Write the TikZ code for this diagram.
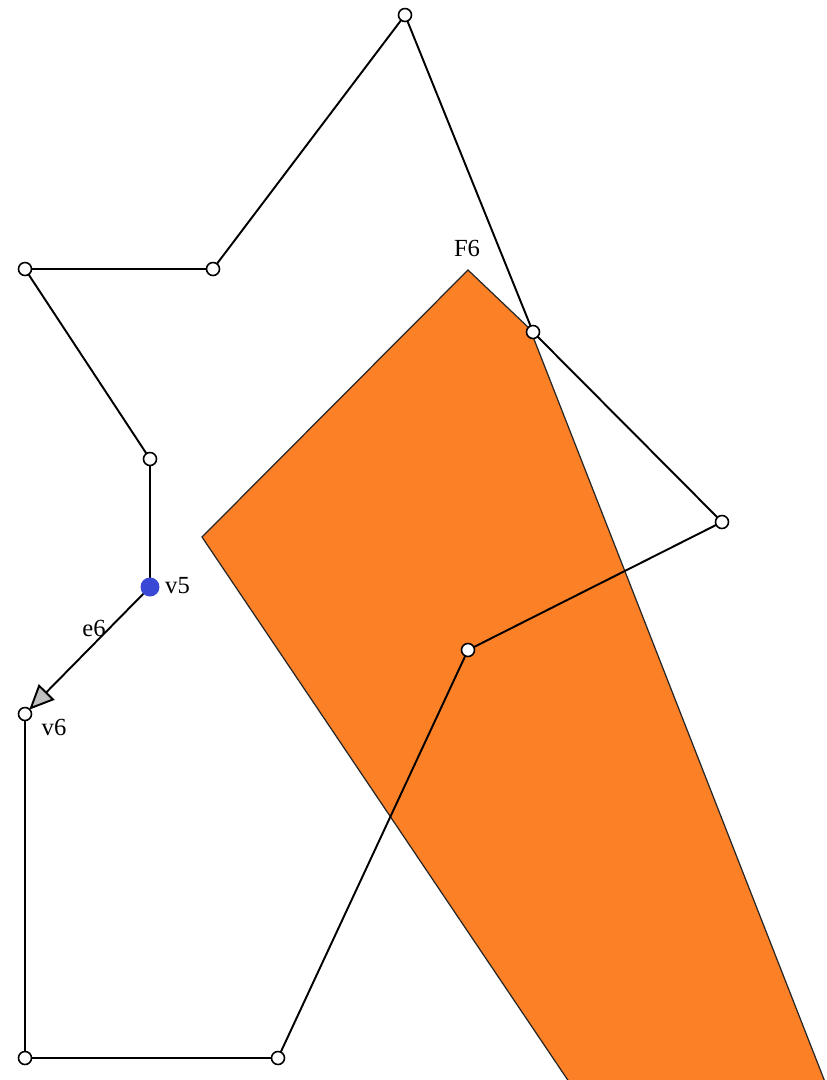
\documentclass[tikz,border=0pt]{standalone}
\usepackage{fontspec}
\setmainfont{Liberation Serif}
\usetikzlibrary{arrows.meta}
\definecolor{faceorange}{RGB}{252,128,38}
\definecolor{vblue}{RGB}{58,72,214}
\tikzset{
  vtx/.style={circle,draw=black,fill=white,line width=0.9pt,inner sep=0pt,minimum size=0.26cm},
  curvtx/.style={circle,fill=vblue,inner sep=0pt,minimum size=0.38cm},
  edge/.style={line width=1.1pt},
  lbl/.style={font=\fontsize{14}{16}\selectfont}
}
\begin{document}
\begin{tikzpicture}[x=0.02cm,y=-0.02cm]
\useasboundingbox (0,0) rectangle (827,1080);

% vertices of the polygon
\coordinate (v0) at (533,332);
\coordinate (v1) at (405,15);
\coordinate (v2) at (213,269);
\coordinate (v3) at (25,269);
\coordinate (v4) at (150,459);
\coordinate (v5) at (150,587);
\coordinate (v6) at (25,714);
\coordinate (v7) at (25,1058);
\coordinate (v8) at (278,1058);
\coordinate (v9) at (468,650);
\coordinate (v10) at (722,522);

% face F6
\begin{scope}
\clip (0,0) rectangle (827,1080);
\filldraw[fill=faceorange,draw=black!85,line width=0.7pt]
  (468,270) -- (530,329) -- (836,1110) -- (588,1110) -- (202,537) -- cycle;
\end{scope}
\node[lbl] (F6) at (467,248) {F6};

% edges
\draw[edge] (v0) -- (v1) -- (v2) -- (v3) -- (v4) -- (v5);
\draw[edge] (v6) -- (v7) -- (v8) -- (v9) -- (v10) -- (v0);
\draw[edge,-{Triangle[length=0.5cm,width=0.44cm,fill=black!25]},shorten >=0.12cm]
  (v5) -- (v6);
\node[lbl] (e6) at (94,628) {e6};

% markers
\foreach \v in {v0,v1,v2,v3,v4,v6,v7,v8,v9,v10}
  \node[vtx] at (\v) {};
\node[curvtx] at (v5) {};
\node[lbl,right] (v5lbl) at (159,586) {v5};
\node[lbl] (v6lbl) at (54,727) {v6};
\end{tikzpicture}
\end{document}
